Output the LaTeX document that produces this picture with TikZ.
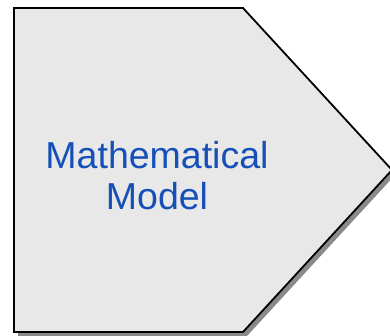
\documentclass[tikz,border=0pt]{standalone}
\usepackage{fontspec}
\setmainfont{Liberation Sans}
\definecolor{txtblue}{HTML}{1550B8}
\definecolor{shapefill}{HTML}{E8E8E8}
\definecolor{shadowgray}{HTML}{8A8A8A}
\begin{document}
\begin{tikzpicture}[x=1pt,y=-1pt,
  shapeline/.style={draw=black,line width=1.8pt,fill=shapefill,line join=miter},
  shadowshape/.style={fill=shadowgray},
  label/.style={text=txtblue,font=\fontsize{37.5}{41}\selectfont,align=center,inner sep=0pt}]
\useasboundingbox (0,0) rectangle (390,335);
\begin{scope}
\clip (0,0) rectangle (390,335);
\fill[shadowshape] (18,12) -- (247,12) -- (396,174) -- (247,336) -- (18,336) -- cycle;
\draw[shapeline] (14,8) -- (243,8) -- (392,170) -- (243,332) -- (14,332) -- cycle;
\end{scope}
\node[label] (t) at (157,175.5) {Mathematical\\Model};
\end{tikzpicture}
\end{document}
